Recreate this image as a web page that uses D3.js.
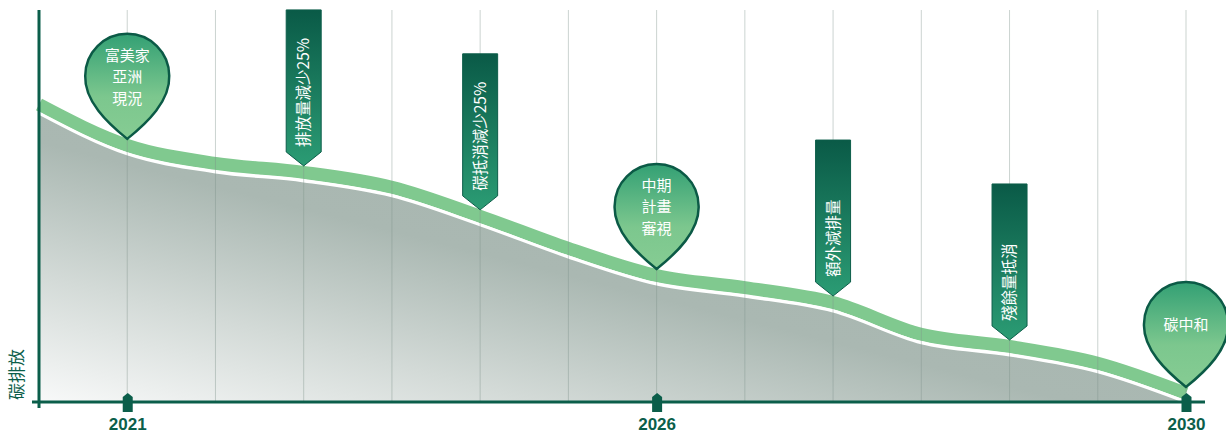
<!DOCTYPE html>
<html>
<head>
<meta charset="utf-8">
<script src="https://cdn.jsdelivr.net/npm/d3@7"></script>
<style>
body { margin: 0; background: #fff; }
</style>
</head>
<body>
<svg id="chart" width="1226" height="434"></svg>
<script>
var steps = [-1, 0, 1, 2, 3, 4, 5, 6, 7, 8, 9, 10, 11, 12];
var emission = [73.7, 63.3, 58.7, 56.4, 52.6, 45.2, 37.0, 30.1, 27.0, 23.2, 15.1, 12.0, 7.7, 0];
var gridSteps = [0, 1, 2, 3, 4, 5, 6, 7, 8, 9, 10, 11, 12];
var yearSteps = [0, 6, 12];
var yearLabels = ["2021", "2026", "2030"];
var pinSteps = [0, 6, 12];
var pinLabels = [["富美家", "亞洲", "現況"], ["中期", "計畫", "審視"], ["碳中和"]];
var bannerSteps = [2, 4, 8, 10];
var bannerLabels = ["排放量減少25%", "碳抵消減少25%", "額外減排量", "殘餘量抵消"];
var yLabel = "碳排放";

var dark = "#0b5e4a";
var cjk = "'Noto Sans CJK TC', 'Noto Sans', sans-serif";

var svg = d3.select("#chart");
var x = d3.scaleLinear().domain([-1, 12]).range([39, 1186]);
var y = d3.scaleLinear().domain([0, 100]).range([402, 10]);

var defs = svg.append("defs");
// light in the bottom left corner, grey toward the top right
var areaGrad = defs.append("linearGradient").attr("id", "areaGrad")
    .attr("x1", 0).attr("y1", 1).attr("x2", 1).attr("y2", 0);
areaGrad.append("stop").attr("offset", 0).attr("stop-color", "#f8f9f9");
areaGrad.append("stop").attr("offset", 0.22).attr("stop-color", "#d3dad7");
areaGrad.append("stop").attr("offset", 0.45).attr("stop-color", "#aab8b2");
areaGrad.append("stop").attr("offset", 1).attr("stop-color", "#a4b4ad");

var pinGrad = defs.append("linearGradient").attr("id", "pinGrad")
    .attr("x1", 0).attr("y1", 0).attr("x2", 0).attr("y2", 1);
pinGrad.append("stop").attr("offset", 0).attr("stop-color", "#33a074");
pinGrad.append("stop").attr("offset", 0.6).attr("stop-color", "#7cc78e");
pinGrad.append("stop").attr("offset", 1).attr("stop-color", "#86cc93");

var bannerGrad = defs.append("linearGradient").attr("id", "bannerGrad")
    .attr("x1", 0).attr("y1", 0).attr("x2", 0).attr("y2", 1);
bannerGrad.append("stop").attr("offset", 0).attr("stop-color", "#0a5a47");
bannerGrad.append("stop").attr("offset", 1).attr("stop-color", "#2b9c74");

var line = d3.line()
    .x(function (d, i) { return x(steps[i]); })
    .y(function (d) { return y(d); })
    .curve(d3.curveMonotoneX);

var area = d3.area()
    .x(function (d, i) { return x(steps[i]); })
    .y0(y(0))
    .y1(function (d) { return y(d); })
    .curve(d3.curveMonotoneX);

svg.append("path").datum(emission)
    .attr("d", area)
    .attr("fill", "url(#areaGrad)");

// green band sits just above the area edge
svg.append("path").datum(emission)
    .attr("d", line)
    .attr("transform", "translate(0,-8.5)")
    .attr("fill", "none")
    .attr("stroke", "#80c98f")
    .attr("stroke-width", 13);

svg.append("path").datum(emission)
    .attr("d", line)
    .attr("fill", "none")
    .attr("stroke", "#fff")
    .attr("stroke-width", 3);

svg.append("g").selectAll("line").data(gridSteps).join("line")
    .attr("x1", function (d) { return x(d); })
    .attr("x2", function (d) { return x(d); })
    .attr("y1", y(100))
    .attr("y2", y(0))
    .attr("stroke", "#7d918a")
    .attr("stroke-opacity", 0.4)
    .attr("stroke-width", 1);

// axes
svg.append("line")
    .attr("x1", x(-1)).attr("x2", x(-1))
    .attr("y1", y(100)).attr("y2", y(0) + 6)
    .attr("stroke", dark).attr("stroke-width", 3);
svg.append("line")
    .attr("x1", x(-1) - 7).attr("x2", x(12) + 19)
    .attr("y1", y(0)).attr("y2", y(0))
    .attr("stroke", dark).attr("stroke-width", 3);

var xAxis = svg.append("g")
    .attr("transform", "translate(0," + y(0) + ")")
    .call(d3.axisBottom(x)
        .tickValues(yearSteps)
        .tickFormat(function (d, i) { return yearLabels[i]; })
        .tickSize(0)
        .tickPadding(16));
xAxis.select(".domain").remove();
xAxis.selectAll(".tick text")
    .attr("fill", dark)
    .attr("font-family", "'Liberation Sans', Arial, sans-serif")
    .attr("font-weight", "bold")
    .attr("font-size", 17);
xAxis.selectAll(".tick").append("path")
    .attr("d", "M-5,10L-5,-5L0,-9L5,-5L5,10Z")
    .attr("fill", dark);

svg.append("text")
    .attr("transform", "translate(17," + 400 + ") rotate(-90)")
    .attr("dy", "0.35em")
    .attr("fill", dark)
    .attr("font-family", cjk)
    .attr("font-size", 17)
    .text(yLabel);

function tipY(s) {
    return y(emission[steps.indexOf(s)]) - 15;
}

// banners
var banners = svg.append("g").selectAll("g").data(bannerSteps).join("g")
    .attr("transform", function (d) { return "translate(" + x(d) + "," + tipY(d) + ")"; });
banners.append("path")
    .attr("d", "M-17.5,-156L17.5,-156L17.5,-14L0,0L-17.5,-14Z")
    .attr("fill", "url(#bannerGrad)")
    .attr("stroke", "#0d5e4a")
    .attr("stroke-width", 1);
banners.append("text")
    .attr("transform", "translate(0,-19) rotate(-90)")
    .attr("dy", "0.35em")
    .attr("fill", "#fff")
    .attr("font-family", cjk)
    .attr("font-size", 15.5)
    .text(function (d, i) { return bannerLabels[i]; });

// pins
var r = 42;
var pins = svg.append("g").selectAll("g").data(pinSteps).join("g")
    .attr("transform", function (d) { return "translate(" + x(d) + "," + tipY(d) + ")"; });
pins.append("path")
    .attr("d", "M0,0C-20,-16,-43,-38,-" + r + ",-63" +
        "A" + r + "," + r + " 0 0 1 " + r + ",-63" +
        "C43,-38,20,-16,0,0Z")
    .attr("fill", "url(#pinGrad)")
    .attr("stroke", "#0b5a46")
    .attr("stroke-width", 2.5);
pins.each(function (d, i) {
    var lines = pinLabels[i];
    var g = d3.select(this);
    lines.forEach(function (s, k) {
        g.append("text")
            .attr("text-anchor", "middle")
            .attr("fill", "#fff")
            .attr("font-family", cjk)
            .attr("font-size", 15)
            .attr("x", 0)
            .attr("y", -62 + (k - (lines.length - 1) / 2) * 21.5)
            .attr("dy", "0.35em")
            .text(s);
    });
});
</script>
</body>
</html>
